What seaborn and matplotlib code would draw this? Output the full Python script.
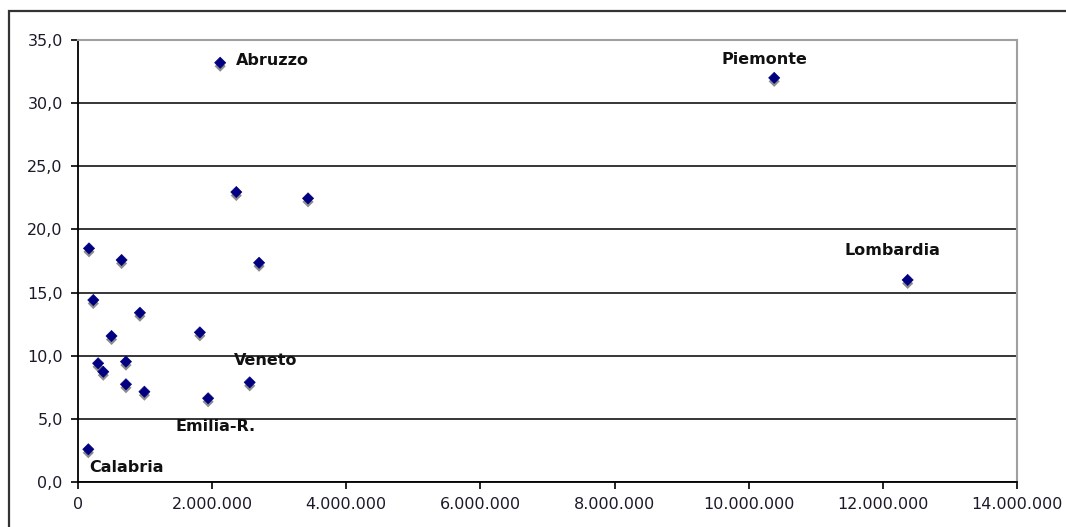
import matplotlib
matplotlib.use("Agg")
import matplotlib.pyplot as plt
import matplotlib.patheffects as pe
from matplotlib.patches import Rectangle
from matplotlib.ticker import FuncFormatter, MultipleLocator
import seaborn as sns
import pandas as pd

# Regional data: x value, y value (%) and the label shown next to the point
x_values = [2120000, 10380000, 12370000, 2360000, 3430000, 164000, 650000, 2700000,
            228000, 923000, 500000, 1817000, 300000, 377000, 715000, 715000,
            990000, 2560000, 1940000, 154000]
y_values = [33.2, 32.0, 16.0, 22.96, 22.46, 18.5, 17.58, 17.36,
            14.41, 13.4, 11.56, 11.85, 9.4, 8.73, 9.53, 7.74,
            7.15, 7.89, 6.63, 2.59]
labels = ["Abruzzo", "Piemonte", "Lombardia", "", "", "", "", "",
          "", "", "", "", "", "", "", "",
          "", "Veneto", "Emilia-R.", "Calabria"]

# label offsets in pixels (dx, dy) and horizontal alignment
label_offsets = {
    "Abruzzo": (16, 2, "left"),
    "Piemonte": (-10, 18, "center"),
    "Lombardia": (-15, 29, "center"),
    "Veneto": (16, 22, "center"),
    "Emilia-R.": (7, -28, "center"),
    "Calabria": (38, -18, "center"),
}

df = pd.DataFrame({"x": x_values, "y": y_values, "label": labels})

sns.set_style("white")
plt.rcParams["font.family"] = ["DejaVu Sans"]

fig = plt.figure(figsize=(10.66, 5.27), dpi=100)
ax = fig.add_axes([78 / 1066, 1 - 482 / 527, (1017 - 78) / 1066, (482 - 40) / 527])

sns.scatterplot(data=df, x="x", y="y", marker="D", s=32, color="#000080",
                edgecolor="#000080", linewidth=0.5, ax=ax, zorder=5)
ax.collections[0].set_path_effects([
    pe.SimplePatchShadow(offset=(0, -2.5), shadow_rgbFace="#707070", alpha=0.8),
    pe.Normal(),
])

for xv, yv, lab in zip(x_values, y_values, labels):
    if not lab:
        continue
    dx, dy, ha = label_offsets[lab]
    ax.annotate(lab, (xv, yv), xytext=(dx, dy), textcoords="offset pixels",
                ha=ha, va="center", fontsize=11.5, fontweight="bold",
                color="#111111", zorder=6)

ax.set_xlim(0, 14000000)
ax.set_ylim(0, 35)
ax.xaxis.set_major_locator(MultipleLocator(2000000))
ax.yaxis.set_major_locator(MultipleLocator(5))
ax.xaxis.set_major_formatter(FuncFormatter(lambda v, p: f"{int(v):,}".replace(",", ".")))
ax.yaxis.set_major_formatter(FuncFormatter(lambda v, p: f"{v:.1f}".replace(".", ",")))
ax.set_xlabel("")
ax.set_ylabel("")

ax.yaxis.grid(True, color="black", linewidth=1.1)
ax.xaxis.grid(False)
ax.set_axisbelow(True)

for side in ("left", "bottom"):
    ax.spines[side].set_color("black")
    ax.spines[side].set_linewidth(1.3)
for side in ("top", "right"):
    ax.spines[side].set_color("#a0a0a0")
    ax.spines[side].set_linewidth(1.5)

ax.tick_params(axis="both", which="major", direction="out", length=5, width=1.2,
               color="black", labelsize=11.5, labelcolor="#1a1a2a", pad=6,
               left=True, bottom=True)

# outer chart frame
fig.patches.append(Rectangle((9 / 1066, -0.2), 1.2, 1.2 - 11 / 527,
                             transform=fig.transFigure, fill=False,
                             edgecolor="#333333", linewidth=1.6, clip_on=False))

fig.savefig("out.png", dpi=100)
